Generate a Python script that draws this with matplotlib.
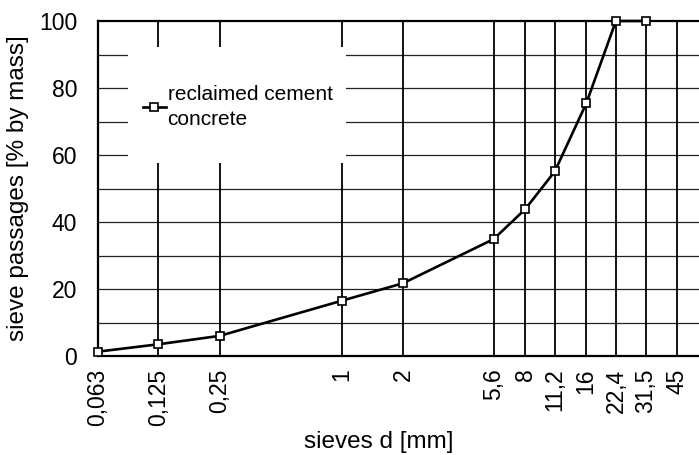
import matplotlib
matplotlib.use("Agg")
import matplotlib.pyplot as plt
from matplotlib.patches import Rectangle

sieves = [0.063, 0.125, 0.25, 1, 2, 5.6, 8, 11.2, 16, 22.4, 31.5, 45]
sieve_labels = ["0,063", "0,125", "0,25", "1", "2", "5,6", "8", "11,2", "16", "22,4", "31,5", "45"]
data_x = [0.063, 0.125, 0.25, 1, 2, 5.6, 8, 11.2, 16, 22.4, 31.5]
passing = [1.3, 3.5, 6.0, 16.5, 21.7, 34.9, 43.8, 55.1, 75.4, 100, 100]
y_ticks = [0, 20, 40, 60, 80, 100]
y_grid = [10, 20, 30, 40, 50, 60, 70, 80, 90]
series_name = "reclaimed cement\nconcrete"

plt.rcParams['font.family'] = ['Liberation Sans', 'DejaVu Sans']

fig = plt.figure(figsize=(6.99, 4.55), dpi=100)
ax = fig.add_axes([98/699, (455-356)/455, 1 - 98/699 + 0.0005, (356-21)/455])
ax.set_xscale('log')
ax.set_xlim(0.063, 57.7)
ax.set_ylim(0, 100)

for yv in y_grid:
    ax.axhline(yv, color='#222222', lw=0.9, zorder=1)
for xv in sieves[1:]:
    ax.axvline(xv, color='black', lw=1.3, zorder=1)

# white legend background covering grid
x0 = (128 - 98) / 601
x1 = (346 - 98) / 601
y0 = (356 - 163) / 335
y1 = (356 - 47) / 335
ax.add_patch(Rectangle((x0, y0), x1 - x0, y1 - y0, transform=ax.transAxes,
                       facecolor='white', edgecolor='none', zorder=1.8))

ax.plot(data_x, passing, color='black', lw=1.9, marker='s', markersize=6,
        markerfacecolor='white', markeredgecolor='black', markeredgewidth=1.2,
        label=series_name, zorder=3, clip_on=False)

ax.set_xticks(sieves)
ax.set_xticklabels(sieve_labels, rotation=90, fontsize=16.5)
ax.minorticks_off()
ax.set_yticks(y_ticks)
ax.set_yticklabels([str(v) for v in y_ticks], fontsize=16.5)
ax.tick_params(axis='both', length=0)
ax.tick_params(axis='y', pad=15)
ax.tick_params(axis='x', pad=9)

for s in ['left', 'top', 'bottom']:
    ax.spines[s].set_linewidth(1.6)
    ax.spines[s].set_color('black')
ax.spines['right'].set_visible(False)

ax.set_xlabel("sieves d [mm]", fontsize=17.5)
ax.xaxis.set_label_coords((379 - 98) / 601, (356 - 431) / 335)
ax.set_ylabel("sieve passages [% by mass]", fontsize=17.5, labelpad=7)

leg = ax.legend(loc='upper left', bbox_to_anchor=((143 - 98) / 601, (356 - 85) / 335),
                frameon=False, fontsize=15, handlelength=1.1, handletextpad=0.08,
                borderpad=0, borderaxespad=0, markerscale=0.9)
for t in leg.get_texts():
    t.set_linespacing(1.4)

fig.savefig("out.png", dpi=100)
